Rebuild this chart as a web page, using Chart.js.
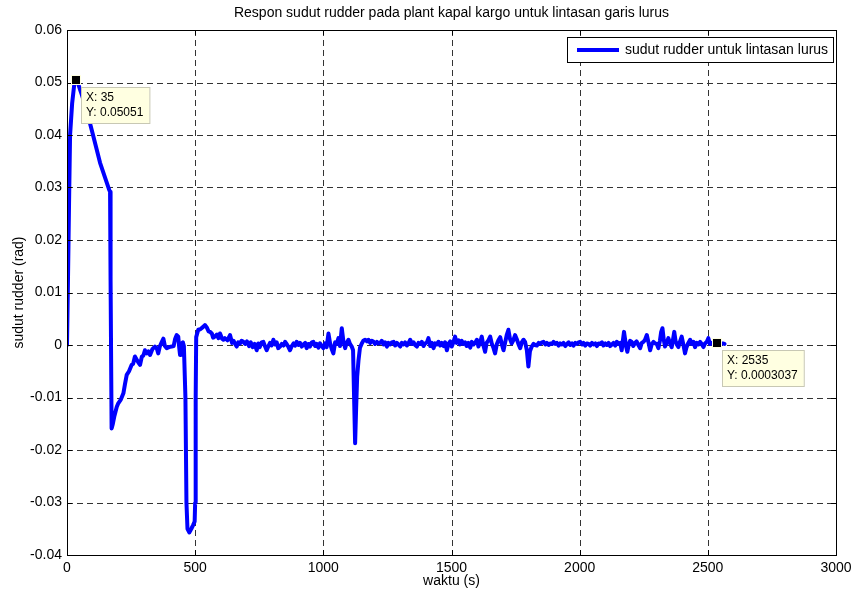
<!DOCTYPE html>
<html>
<head>
<meta charset="utf-8">
<title>Respon sudut rudder</title>
<script src="https://cdn.jsdelivr.net/npm/chart.js@4.4.1/dist/chart.umd.min.js"></script>
<style>
  html, body { margin: 0; padding: 0; background: #fff; }
  canvas { display: block; }
</style>
</head>
<body>
<canvas id="chart" width="858" height="594"></canvas>
<script>
const xTicks = [0, 500, 1000, 1500, 2000, 2500, 3000];
const yTicks = [-0.04, -0.03, -0.02, -0.01, 0, 0.01, 0.02, 0.03, 0.04, 0.05, 0.06];

// waktu (s)
const waktu = [
  0, 4, 8, 12, 20, 28, 35, 42, 50, 57, 70, 83, 103, 129, 165, 168, 170, 174,
  178, 185, 194, 200, 210, 220, 226, 233, 242, 252, 258, 265, 272, 278, 285, 292, 298, 304,
  312, 318, 324, 333, 343, 350, 356, 362, 370, 376, 382, 389, 398, 408, 416, 422, 428, 434,
  438, 441, 444, 447, 452, 456,
  462, 466, 470, 477, 485, 492, 498, 500, 502, 504, 512, 520, 530, 538, 546, 552, 558, 565,
  570, 577, 585, 591, 597, 605, 610, 616, 626, 636, 644, 650, 656, 662, 668, 675, 681, 688,
  695, 702, 710, 717, 724, 732, 740, 746, 752, 759, 766, 772, 779, 786, 792, 798, 805, 812,
  818, 824, 831, 838, 845, 851, 858, 864, 870, 877, 884, 890, 896, 903, 909, 916, 922, 929,
  935, 942, 948, 955, 961, 968, 974, 981, 987, 994, 1000, 1007, 1013, 1020, 1026, 1033, 1039,
  1046, 1052, 1059, 1065, 1072, 1078, 1085, 1091, 1098, 1104, 1111, 1116, 1120, 1124, 1128,
  1132, 1137, 1143, 1150, 1156, 1163, 1170, 1176, 1183, 1189, 1196, 1202, 1209, 1215, 1222,
  1228, 1235, 1241, 1248, 1254, 1261, 1267, 1274, 1280, 1287, 1293, 1300, 1306, 1313, 1319,
  1326, 1332, 1339, 1345, 1352, 1358, 1365, 1371, 1378, 1384, 1391, 1397, 1404, 1410, 1417,
  1423, 1430, 1436, 1443, 1449, 1456, 1462, 1469, 1475, 1482, 1488, 1495, 1501, 1508, 1514,
  1520, 1527, 1533, 1540, 1546, 1553, 1559, 1566, 1573, 1579, 1586, 1592, 1599, 1605, 1612,
  1618, 1624, 1631, 1637, 1644, 1651, 1657, 1664, 1670, 1677, 1683, 1690, 1696, 1703, 1709,
  1716, 1722, 1728, 1735, 1741, 1748, 1754, 1761, 1768, 1774, 1781, 1787, 1794, 1800, 1806,
  1813, 1820, 1826, 1833, 1840, 1846, 1853, 1859, 1866, 1872, 1879, 1885, 1892, 1898, 1905,
  1911, 1918, 1924, 1931, 1937, 1944, 1950, 1957, 1963, 1970, 1976, 1983, 1989, 1996, 2002,
  2009, 2015, 2022, 2028, 2035, 2041, 2048, 2054, 2061, 2067, 2074, 2080, 2087, 2093, 2100,
  2106, 2113, 2119, 2126, 2132, 2139, 2145, 2152, 2158, 2164, 2169, 2173, 2178, 2182, 2186,
  2192, 2197, 2203, 2209, 2216, 2222, 2229, 2236, 2242, 2249, 2255, 2262, 2268, 2275, 2281,
  2288, 2294, 2301, 2307, 2313, 2318, 2323, 2328, 2333, 2339, 2346, 2352, 2359, 2364, 2369,
  2374, 2379, 2385, 2391, 2398, 2404, 2411, 2417, 2424, 2431, 2437, 2444, 2450, 2457, 2463,
  2470, 2476, 2483, 2489, 2496, 2502, 2508, 2515, 2521, 2528, 2535, 2542, 2550, 2558, 2565
];

// sudut rudder (rad)
const sudutRudder = [
  0, 0.013, 0.027, 0.040, 0.046, 0.0495, 0.05051, 0.0500, 0.0488, 0.0478, 0.0458, 0.0435, 0.0397, 0.0347, 0.0295, 0.0292, 0.0124, -0.0159,
  -0.0152, -0.0135, -0.0118, -0.0111, -0.0104, -0.0092, -0.0075, -0.0057, -0.0050, -0.0038, -0.0036, -0.0022, -0.0028, -0.0033, -0.0038, -0.0022, -0.0020, -0.0010,
  -0.0016, -0.0012, -0.0019, -0.0008, -0.0003, -0.0006, -0.0016, -0.0003, 0.0006, 0.0012, -0.0002, -0.0006, -0.0004, -0.0003, -0.0002, 0.0012, 0.0019, 0.0016,
  -0.0006, -0.0019, -0.0010, 0.0003, 0.0005, -0.0002,
  -0.0100, -0.0300, -0.0350, -0.0357, -0.0350, -0.0343, -0.0336, -0.0300, -0.0100, 0.0015, 0.0029, 0.0030, 0.0034, 0.0038, 0.0033, 0.0026, 0.0025, 0.0022,
  0.0014, 0.0016, 0.0020, 0.0013, 0.0022, 0.0012, 0.0010, 0.0013, 0.0009, 0.0019, 0.0004, 0.0008, 0.0002, -0.0003, 0.0005, 0.0003, 0.0008, 0.0006,
  0.0002, 0.0007, -0.0002, 0.0005, -0.0004, 0.0002, -0.0010, 0.0003, -0.0004, 0.0005, 0.0006, -0.0002, -0.0010, -0.0002, 0.0004, -0.0001, 0.0010, 0.0001,
  0.0005, -0.0006, -0.0003, 0.0002, -0.0001, 0.0006, 0.0001, -0.0004, -0.0010, -0.0002, 0.0003, -0.0001, 0.0006, 0.0000, 0.0004, -0.0003, 0.0001, 0.0004,
  -0.0006, 0.0002, -0.0003, 0.0005, 0.0006, -0.0002, 0.0002, -0.0005, 0.0003, -0.0002, -0.0006, 0.0003, -0.0004, 0.0022, 0.0004, -0.0008, -0.0016,
  0.0005, 0.0002, 0.0013, -0.0002, 0.0032, 0.0008, -0.0006, 0.0004, 0.0010, 0.0002, -0.0003, -0.0010, -0.0100, -0.0187, -0.0120,
  -0.0060, -0.0030, -0.0005, 0.0003, 0.0008, 0.0010, 0.0007, 0.0010, 0.0004, 0.0008, 0.0006, 0.0002, 0.0006, 0.0003, 0.0004,
  0.0008, 0.0001, 0.0005, -0.0003, 0.0004, 0.0001, 0.0005, 0.0006, -0.0001, 0.0004, 0.0001, -0.0003, 0.0004, 0.0001, 0.0005,
  -0.0001, 0.0003, 0.0010, 0.0002, 0.0005, 0.0000, -0.0003, 0.0004, 0.0002, 0.0006, -0.0002, 0.0003, 0.0005, 0.0013, -0.0002,
  0.0004, -0.0006, 0.0003, 0.0001, 0.0006, -0.0001, 0.0004, -0.0002, 0.0005, -0.0010, 0.0002, 0.0007, -0.0003, 0.0006, 0.0016,
  0.0004, 0.0009, 0.0001, 0.0008, 0.0002, 0.0005, -0.0002, 0.0004, -0.0005, 0.0006, 0.0001, 0.0004, 0.0010, -0.0003, 0.0005,
  0.0016, 0.0000, -0.0013, 0.0004, 0.0009, 0.0016, 0.0003, -0.0006, -0.0016, 0.0002, 0.0009, 0.0015, 0.0002, -0.0010, 0.0004,
  0.0020, 0.0029, 0.0012, 0.0003, 0.0009, 0.0019, 0.0012, 0.0002, -0.0006, 0.0005, 0.0010, 0.0006, -0.0010, -0.0041, -0.0012,
  -0.0003, 0.0002, 0.0000, -0.0001, 0.0004, 0.0002, 0.0005, 0.0006, 0.0001, 0.0004, 0.0000, 0.0003, 0.0002, 0.0006, 0.0002,
  0.0004, -0.0001, 0.0003, 0.0001, 0.0004, -0.0002, 0.0002, 0.0005, 0.0000, 0.0003, -0.0001, 0.0004, 0.0002, 0.0005, 0.0006,
  0.0001, 0.0004, -0.0001, 0.0003, 0.0002, -0.0001, 0.0004, 0.0001, 0.0003, -0.0002, 0.0003, 0.0002, 0.0005, -0.0001, 0.0003,
  0.0000, 0.0004, -0.0002, 0.0001, 0.0004, -0.0001, 0.0006, 0.0002, 0.0004, -0.0010, 0.0010, 0.0025, 0.0008, -0.0005, -0.0013,
  0.0002, 0.0008, 0.0006, -0.0002, 0.0004, 0.0007, 0.0000, -0.0006, 0.0004, 0.0006, 0.0010, 0.0019, 0.0006, -0.0010, 0.0001,
  0.0006, 0.0003, 0.0002, -0.0006, 0.0008, 0.0025, 0.0032, 0.0010, -0.0003, 0.0004, 0.0013, 0.0004, -0.0004, 0.0010, 0.0025,
  0.0008, 0.0001, -0.0004, 0.0006, 0.0016, 0.0002, -0.0016, -0.0004, 0.0004, 0.0010, 0.0002, 0.0006, -0.0004, 0.0004, 0.0001,
  0.0006, 0.0002, -0.0004, 0.0003, 0.0006, 0.0013, 0.0002, 0.0004, 0.0001, 0.0005, 0.0003037, 0.0004, 0.0002, 0.0003, 0.0002
];

// data tips
const tipX = [35, 2535];
const tipY = [0.05051, 0.0003037];
const tipText = [["X: 35", "Y: 0.05051"], ["X: 2535", "Y: 0.0003037"]];

const seriesLabel = "sudut rudder untuk lintasan lurus";
const titleText = "Respon sudut rudder pada plant kapal kargo untuk lintasan garis lurus";
const xTitle = "waktu (s)";
const yTitle = "sudut rudder (rad)";

const FONT = "'Liberation Sans', Arial, sans-serif";

const points = waktu.map((t, i) => ({ x: t, y: sudutRudder[i] }));

const matlabAxes = {
  id: "matlabAxes",
  beforeDatasetsDraw(chart) {
    const ctx = chart.ctx;
    const a = chart.chartArea;
    const xs = chart.scales.x, ys = chart.scales.y;
    ctx.save();
    ctx.strokeStyle = "#333";
    ctx.lineWidth = 1;
    ctx.setLineDash([6, 4]);
    xTicks.slice(1, -1).forEach(v => {
      const px = Math.round(xs.getPixelForValue(v)) + 0.5;
      ctx.beginPath();
      ctx.moveTo(px, a.top);
      ctx.lineTo(px, a.bottom);
      ctx.stroke();
    });
    yTicks.slice(1, -1).forEach(v => {
      const py = Math.round(ys.getPixelForValue(v)) + 0.5;
      ctx.beginPath();
      ctx.moveTo(a.left, py);
      ctx.lineTo(a.right, py);
      ctx.stroke();
    });
    ctx.restore();
  },
  afterDatasetsDraw(chart) {
    const ctx = chart.ctx;
    const a = chart.chartArea;
    const xs = chart.scales.x, ys = chart.scales.y;
    ctx.save();
    // frame
    ctx.strokeStyle = "#000";
    ctx.lineWidth = 1;
    ctx.setLineDash([]);
    ctx.strokeRect(Math.round(a.left) + 0.5, Math.round(a.top) + 0.5,
      Math.round(a.right - a.left), Math.round(a.bottom - a.top));
    // inward ticks
    const tl = 5;
    ctx.beginPath();
    xTicks.forEach(v => {
      const px = Math.round(xs.getPixelForValue(v)) + 0.5;
      ctx.moveTo(px, a.bottom); ctx.lineTo(px, a.bottom - tl);
      ctx.moveTo(px, a.top); ctx.lineTo(px, a.top + tl);
    });
    yTicks.forEach(v => {
      const py = Math.round(ys.getPixelForValue(v)) + 0.5;
      ctx.moveTo(a.left, py); ctx.lineTo(a.left + tl, py);
      ctx.moveTo(a.right, py); ctx.lineTo(a.right - tl, py);
    });
    ctx.stroke();

    // titles
    ctx.fillStyle = "#000";
    ctx.font = "14px " + FONT;
    ctx.textAlign = "center";
    ctx.textBaseline = "middle";
    ctx.fillText(titleText, (a.left + a.right) / 2, 13);
    ctx.fillText(xTitle, (a.left + a.right) / 2, 581);
    ctx.save();
    ctx.translate(19, (a.top + a.bottom) / 2);
    ctx.rotate(-Math.PI / 2);
    ctx.fillText(yTitle, 0, 0);
    ctx.restore();

    // legend
    const lx = 567, ly = 37, lw = 266, lh = 25;
    ctx.fillStyle = "#fff";
    ctx.fillRect(lx, ly, lw, lh);
    ctx.strokeStyle = "#000";
    ctx.strokeRect(lx + 0.5, ly + 0.5, lw, lh);
    ctx.strokeStyle = "#0000ff";
    ctx.lineWidth = 4;
    ctx.beginPath();
    ctx.moveTo(577, 50);
    ctx.lineTo(619, 50);
    ctx.stroke();
    ctx.fillStyle = "#000";
    ctx.textAlign = "left";
    ctx.fillText(seriesLabel, 625, 50);

    // data tips
    ctx.font = "12px " + FONT;
    tipX.forEach((tx, i) => {
      const px = xs.getPixelForValue(tx);
      const py = ys.getPixelForValue(tipY[i]);
      const bx = Math.round(px) + 5, by = Math.round(py) + 7;
      const w = Math.max(...tipText[i].map(s => ctx.measureText(s).width)) + 11;
      const h = 36;
      ctx.fillStyle = "#ffffe1";
      ctx.fillRect(bx, by, w, h);
      ctx.strokeStyle = "#c8c8b4";
      ctx.lineWidth = 1;
      ctx.strokeRect(bx + 0.5, by + 0.5, w, h);
      ctx.fillStyle = "#000";
      ctx.fillText(tipText[i][0], bx + 5, by + 11);
      ctx.fillText(tipText[i][1], bx + 5, by + 26);
      // marker
      ctx.fillStyle = "#ffffe1";
      ctx.fillRect(Math.round(px) - 5, Math.round(py) - 5, 10, 10);
      ctx.fillStyle = "#000";
      ctx.fillRect(Math.round(px) - 4, Math.round(py) - 4, 8, 8);
    });
    ctx.restore();
  }
};

new Chart(document.getElementById("chart"), {
  type: "line",
  data: {
    datasets: [{
      label: seriesLabel,
      data: points,
      borderColor: "#0000ff",
      borderWidth: 4,
      borderJoinStyle: "round",
      borderCapStyle: "round",
      pointRadius: 0,
      tension: 0,
      fill: false
    }]
  },
  options: {
    responsive: false,
    animation: false,
    layout: { padding: { top: 30, right: 22, left: 0, bottom: 0 } },
    plugins: {
      legend: { display: false },
      tooltip: { enabled: false },
      title: { display: false }
    },
    scales: {
      x: {
        type: "linear",
        min: 0,
        max: 3000,
        afterBuildTicks: s => { s.ticks = xTicks.map(v => ({ value: v })); },
        afterFit: s => { s.height = 39; },
        grid: { display: false, drawTicks: false },
        border: { display: false },
        ticks: {
          color: "#000",
          font: { family: FONT, size: 14 },
          padding: 5,
          maxRotation: 0,
          autoSkip: false,
          callback: v => String(v)
        }
      },
      y: {
        type: "linear",
        min: -0.04,
        max: 0.06,
        afterBuildTicks: s => { s.ticks = yTicks.map(v => ({ value: v })); },
        afterFit: s => { s.width = 67; },
        grid: { display: false, drawTicks: false },
        border: { display: false },
        ticks: {
          color: "#000",
          font: { family: FONT, size: 14 },
          padding: 5,
          autoSkip: false,
          callback: v => String(+v.toFixed(2))
        }
      }
    }
  },
  plugins: [matlabAxes]
});
</script>
</body>
</html>
